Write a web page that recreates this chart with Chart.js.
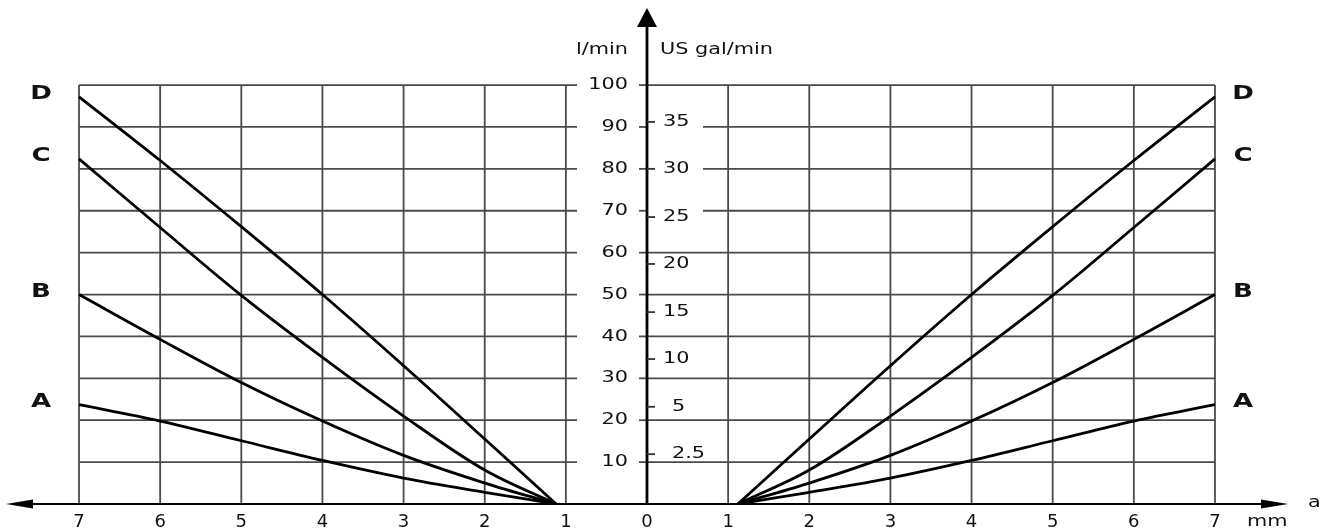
<!DOCTYPE html>
<html>
<head>
<meta charset="utf-8">
<script src="https://cdn.jsdelivr.net/npm/chart.js@4.4.0/dist/chart.umd.min.js"></script>
<style>
  html, body { margin: 0; background: #fff; }
  #wrap { width: 1320px; height: 529px; }
</style>
</head>
<body>
<div id="wrap"><canvas id="chart"></canvas></div>
<script>
// gap a in mm (right side, mirrored on the left)
var gapRight = [1.12, 2, 3, 4, 5, 6, 7];
var gapLeft = [-1.12, -2, -3, -4, -5, -6, -7];

// flow in l/min for each curve
var flowA = [0, 2.8, 6.2, 10.4, 15.1, 19.8, 23.7];
var flowB = [0, 5, 11.6, 19.8, 29, 39.3, 50];
var flowC = [0, 8.1, 21, 35, 49.8, 66, 82.4];
var flowD = [0, 15.5, 33, 50, 66.2, 82, 97.2];
var curveNames = ['A', 'B', 'C', 'D'];
var curves = [flowA, flowB, flowC, flowD];

var xTicks = [-7, -6, -5, -4, -3, -2, -1, 0, 1, 2, 3, 4, 5, 6, 7];
var gridX = [-7, -6, -5, -4, -3, -2, -1, 1, 2, 3, 4, 5, 6, 7];
var yTicks = [10, 20, 30, 40, 50, 60, 70, 80, 90, 100];
// US gal/min labels and where they sit on the l/min scale
var galLabels = ['2.5', '5', '10', '15', '20', '25', '30', '35'];
var galAt = [11.9, 23.2, 34.6, 45.8, 57.3, 68.5, 80.0, 91.2];
var gappedLines = [70, 80, 90];

function pts(xs, ys) {
  return xs.map(function (x, i) { return { x: x, y: ys[i] }; });
}

var datasets = [];
curves.forEach(function (c, i) {
  [gapLeft, gapRight].forEach(function (xs) {
    datasets.push({
      label: curveNames[i],
      data: pts(xs, c),
      showLine: true,
      borderColor: '#000',
      borderWidth: 2.8,
      pointRadius: 0,
      tension: 0.35
    });
  });
});

var FONT = '"DejaVu Sans", sans-serif';
var INK = '#111';

function txt(ctx, s, x, y, align, font) {
  ctx.save();
  ctx.font = font;
  ctx.fillStyle = INK;
  ctx.textBaseline = 'middle';
  ctx.textAlign = align;
  ctx.translate(x, y);
  ctx.scale(1.3, 1);
  ctx.fillText(s, 0, 0);
  ctx.restore();
}

function line(ctx, x1, y1, x2, y2) {
  ctx.beginPath();
  ctx.moveTo(x1, y1);
  ctx.lineTo(x2, y2);
  ctx.stroke();
}

var gridPlugin = {
  id: 'gridPlugin',
  beforeDatasetsDraw: function (chart) {
    var ctx = chart.ctx, xs = chart.scales.x, ys = chart.scales.y;
    var ax = xs.getPixelForValue(0);
    ctx.save();
    ctx.strokeStyle = '#4a4a4a';
    ctx.lineWidth = 1.8;
    gridX.forEach(function (v) {
      var px = xs.getPixelForValue(v);
      line(ctx, px, ys.getPixelForValue(0), px, ys.getPixelForValue(100));
    });
    yTicks.forEach(function (v) {
      var py = ys.getPixelForValue(v);
      line(ctx, xs.getPixelForValue(-7), py, ax - 70, py);
      line(ctx, ax - 8, py, ax, py);
      var start = gappedLines.indexOf(v) >= 0 ? ax + 56 : ax;
      line(ctx, start, py, xs.getPixelForValue(7), py);
    });
    ctx.restore();
  },
  afterDatasetsDraw: function (chart) {
    var ctx = chart.ctx, xs = chart.scales.x, ys = chart.scales.y, ca = chart.chartArea;
    var ax = xs.getPixelForValue(0);
    var ay = ys.getPixelForValue(0);
    ctx.save();
    ctx.strokeStyle = '#000';
    ctx.fillStyle = '#000';
    // vertical axis with arrow
    ctx.lineWidth = 2.8;
    line(ctx, ax, ay, ax, ca.top + 16);
    ctx.beginPath();
    ctx.moveTo(ax, ca.top);
    ctx.lineTo(ax - 10, ca.top + 19);
    ctx.lineTo(ax + 10, ca.top + 19);
    ctx.closePath();
    ctx.fill();
    // horizontal axis with arrows
    ctx.lineWidth = 2;
    line(ctx, ca.left + 20, ay, ca.right - 20, ay);
    ctx.beginPath();
    ctx.moveTo(ca.left, ay);
    ctx.lineTo(ca.left + 27, ay - 4.5);
    ctx.lineTo(ca.left + 27, ay + 4.5);
    ctx.closePath();
    ctx.fill();
    ctx.beginPath();
    ctx.moveTo(ca.right, ay);
    ctx.lineTo(ca.right - 27, ay - 4.5);
    ctx.lineTo(ca.right - 27, ay + 4.5);
    ctx.closePath();
    ctx.fill();
    // gal/min ticks
    ctx.lineWidth = 1.8;
    ctx.strokeStyle = '#333';
    galAt.forEach(function (v, i) {
      var py = ys.getPixelForValue(v);
      line(ctx, ax, py, ax + 8, py);
      var off = galLabels[i].length === 2 ? 16 : 25;
      txt(ctx, galLabels[i], ax + off, py, 'left', '16px ' + FONT);
    });
    ctx.restore();

    yTicks.forEach(function (v) {
      txt(ctx, String(v), ax - 19, ys.getPixelForValue(v), 'right', '16px ' + FONT);
    });
    var ty = ys.getPixelForValue(108.3);
    txt(ctx, 'l/min', ax - 19, ty, 'right', '16px ' + FONT);
    txt(ctx, 'US gal/min', ax + 13, ty, 'left', '16px ' + FONT);
    txt(ctx, 'a', ca.right + 20, ay - 1, 'left', '16px ' + FONT);
    txt(ctx, 'mm', xs.getPixelForValue(7) + 32, ay + 18, 'left', '16px ' + FONT);

    curves.forEach(function (c, i) {
      var py = ys.getPixelForValue(c[c.length - 1]) - 3;
      txt(ctx, curveNames[i], xs.getPixelForValue(-7) - 38, py, 'center', 'bold 20px ' + FONT);
      txt(ctx, curveNames[i], xs.getPixelForValue(7) + 28, py, 'center', 'bold 20px ' + FONT);
    });
  }
};

new Chart(document.getElementById('chart'), {
  type: 'scatter',
  data: { datasets: datasets },
  options: {
    responsive: true,
    maintainAspectRatio: false,
    animation: false,
    layout: { padding: { left: 6, right: 32, top: 8, bottom: 0 } },
    plugins: { legend: { display: false }, tooltip: { enabled: false } },
    scales: {
      x: {
        type: 'linear',
        min: -7.9,
        max: 7.9,
        afterBuildTicks: function (s) {
          s.ticks = xTicks.map(function (v) { return { value: v }; });
        },
        afterFit: function (s) { s.height = 25; },
        grid: { display: false, drawTicks: false },
        border: { display: false },
        ticks: {
          autoSkip: false,
          maxRotation: 0,
          padding: 9,
          color: INK,
          font: { family: 'DejaVu Sans', size: 18, lineHeight: 1 },
          callback: function (v) { return String(Math.abs(v)); }
        }
      },
      y: {
        type: 'linear',
        display: false,
        min: 0,
        max: 118.4
      }
    }
  },
  plugins: [gridPlugin]
});
</script>
</body>
</html>
